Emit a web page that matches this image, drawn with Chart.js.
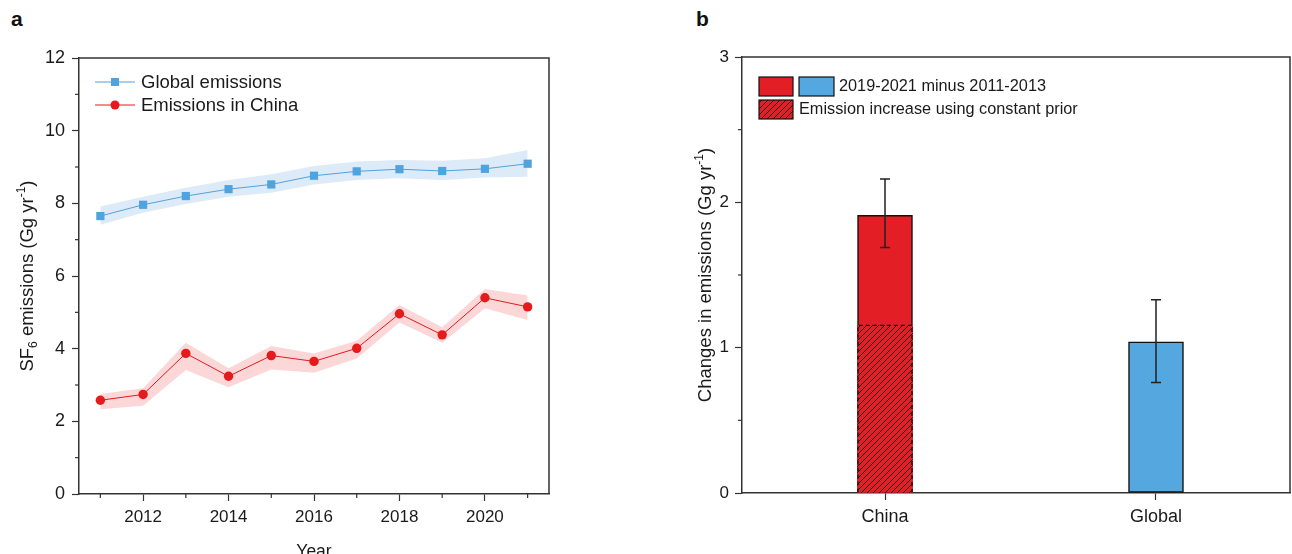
<!DOCTYPE html>
<html>
<head>
<meta charset="utf-8">
<script src="https://cdn.jsdelivr.net/npm/chart.js@4.4.0/dist/chart.umd.min.js"></script>
<style>
html, body { margin: 0; padding: 0; background: #fff; }
body { width: 1292px; height: 554px; position: relative; overflow: hidden; font-family: "Liberation Sans", Arial, sans-serif; }
.wrap { position: absolute; top: 0; height: 554px; }
#wa { left: 0; width: 640px; }
#wb { left: 640px; width: 652px; }
.tag { position: absolute; font-weight: bold; font-size: 21px; line-height: 21px; color: #111; }
</style>
</head>
<body>
<div class="tag" style="left:11px;top:8px">a</div>
<div class="tag" style="left:696px;top:8px">b</div>
<div class="wrap" id="wa"><canvas id="emis" width="640" height="554"></canvas></div>
<div class="wrap" id="wb"><canvas id="change" width="652" height="554"></canvas></div>
<script>
"use strict";

// panel a
const years = [2011, 2012, 2013, 2014, 2015, 2016, 2017, 2018, 2019, 2020, 2021];
const globalEmis = [7.65, 7.96, 8.20, 8.39, 8.52, 8.76, 8.88, 8.94, 8.89, 8.95, 9.09];
const globalHigh = [7.91, 8.18, 8.43, 8.64, 8.80, 9.03, 9.15, 9.19, 9.17, 9.24, 9.47];
const globalLow  = [7.41, 7.74, 7.98, 8.18, 8.29, 8.52, 8.64, 8.69, 8.64, 8.71, 8.73];
const chinaEmis  = [2.58, 2.74, 3.87, 3.24, 3.81, 3.65, 4.01, 4.96, 4.38, 5.40, 5.15];
const chinaHigh  = [2.75, 2.91, 4.16, 3.46, 4.07, 3.87, 4.22, 5.20, 4.59, 5.64, 5.46];
const chinaLow   = [2.33, 2.43, 3.41, 2.94, 3.43, 3.34, 3.73, 4.72, 4.16, 5.11, 4.79];
const emisTicks  = [0, 1, 2, 3, 4, 5, 6, 7, 8, 9, 10, 11, 12];

// panel b
const regions = ["China", "Global"];
const changeMean = [1.91, 1.04];
const changeHigh = [2.16, 1.33];
const changeLow  = [1.69, 0.76];
const constantPrior = [1.154];   // China only
const changeTicks = [0, 0.5, 1, 1.5, 2, 2.5, 3];

const BLUE = "#4fa3de";
const BLUE_BAND = "#ddebf8";
const RED = "#e41a1c";
const RED_BAND = "#fcd7d8";
const BAR_RED = "#e31e24";
const BAR_BLUE = "#54a7df";
const INK = "#1a1a1a";
const AXIS = "#333";
const FONT = "'Liberation Sans', Arial, sans-serif";

Chart.defaults.font.family = FONT;
Chart.defaults.font.size = 17;
Chart.defaults.color = INK;

// short ticks wherever a tick has no label
const shortTicks = {
	id: "shortTicks",
	afterDraw(chart) {
		const ctx = chart.ctx;
		ctx.save();
		ctx.strokeStyle = AXIS;
		ctx.lineWidth = 1.2;
		for (const id of ["x", "y"]) {
			const s = chart.scales[id];
			s.ticks.forEach(t => {
				if (t.label !== "") return;
				const p = s.getPixelForValue(t.value);
				ctx.beginPath();
				if (s.isHorizontal()) {
					ctx.moveTo(p, s.top);
					ctx.lineTo(p, s.top + 4);
				} else {
					ctx.moveTo(s.right, p);
					ctx.lineTo(s.right - 4, p);
				}
				ctx.stroke();
			});
		}
		ctx.restore();
	}
};

// top / right frame lines
const frame = {
	id: "frame",
	afterDraw(chart) {
		const a = chart.chartArea, ctx = chart.ctx;
		ctx.save();
		ctx.strokeStyle = AXIS;
		ctx.lineWidth = 1.5;
		ctx.beginPath();
		ctx.moveTo(a.left, a.top);
		ctx.lineTo(a.right, a.top);
		ctx.lineTo(a.right, a.bottom);
		ctx.stroke();
		ctx.restore();
	}
};

// rotated axis title with sub/superscripts
function drawRichTitle(ctx, parts, cx, cy) {
	const big = "18.5px " + FONT;
	const small = "12px " + FONT;
	let total = 0;
	parts.forEach(p => {
		ctx.font = p.sub || p.sup ? small : big;
		p.w = ctx.measureText(p.t).width;
		total += p.w;
	});
	ctx.save();
	ctx.translate(cx, cy);
	ctx.rotate(-Math.PI / 2);
	ctx.fillStyle = INK;
	ctx.textBaseline = "alphabetic";
	let x = -total / 2;
	parts.forEach(p => {
		ctx.font = p.sub || p.sup ? small : big;
		const dy = p.sub ? 4 : p.sup ? -8 : 0;
		ctx.fillText(p.t, x, 7 + dy);
		x += p.w;
	});
	ctx.restore();
}

function yTitle(parts, cx) {
	return {
		id: "yTitle",
		afterDraw(chart) {
			const a = chart.chartArea;
			drawRichTitle(chart.ctx, parts, cx, (a.top + a.bottom) / 2);
		}
	};
}

const legendA = {
	id: "legendA",
	afterDraw(chart) {
		const ctx = chart.ctx;
		const items = [
			{ text: "Global emissions", color: BLUE, shape: "rect", y: 82 },
			{ text: "Emissions in China", color: RED, shape: "circle", y: 105 }
		];
		ctx.save();
		items.forEach(it => {
			ctx.strokeStyle = it.color;
			ctx.lineWidth = 1;
			ctx.beginPath();
			ctx.moveTo(95, it.y);
			ctx.lineTo(135, it.y);
			ctx.stroke();
			ctx.fillStyle = it.color;
			if (it.shape === "rect") {
				ctx.fillRect(111, it.y - 4, 8, 8);
			} else {
				ctx.beginPath();
				ctx.arc(115, it.y, 4.5, 0, Math.PI * 2);
				ctx.fill();
			}
			ctx.fillStyle = INK;
			ctx.font = "18.5px " + FONT;
			ctx.textBaseline = "middle";
			ctx.fillText(it.text, 141, it.y + 1);
		});
		ctx.restore();
	}
};

function pinArea(chart, pad, box) {
	for (let k = 0; k < 3; k++) {
		const a = chart.chartArea;
		pad.left += box.left - a.left;
		pad.top += box.top - a.top;
		pad.right += a.right - box.right;
		pad.bottom += a.bottom - box.bottom;
		chart.update("none");
	}
}

const padA = { top: 48, left: 40, right: 91, bottom: 10 };

const chartA = new Chart(document.getElementById("emis"), {
	type: "line",
	data: {
		datasets: [
			{ data: years.map((y, i) => ({ x: y, y: globalEmis[i] })), borderColor: BLUE, backgroundColor: BLUE,
				borderWidth: 1, pointStyle: "rect", pointRadius: 5.8, pointBorderWidth: 0, fill: false },
			{ data: years.map((y, i) => ({ x: y, y: chinaEmis[i] })), borderColor: RED, backgroundColor: RED,
				borderWidth: 1, pointStyle: "circle", pointRadius: 4.7, pointBorderWidth: 0, fill: false },
			{ data: years.map((y, i) => ({ x: y, y: globalHigh[i] })), borderWidth: 0, pointRadius: 0,
				backgroundColor: BLUE_BAND, fill: "+1" },
			{ data: years.map((y, i) => ({ x: y, y: globalLow[i] })), borderWidth: 0, pointRadius: 0, fill: false },
			{ data: years.map((y, i) => ({ x: y, y: chinaHigh[i] })), borderWidth: 0, pointRadius: 0,
				backgroundColor: RED_BAND, fill: "+1" },
			{ data: years.map((y, i) => ({ x: y, y: chinaLow[i] })), borderWidth: 0, pointRadius: 0, fill: false }
		]
	},
	options: {
		responsive: false,
		animation: false,
		layout: { padding: padA },
		plugins: { legend: { display: false }, tooltip: { enabled: false } },
		scales: {
			x: {
				type: "linear",
				min: 2010.5,
				max: 2021.5,
				afterBuildTicks: s => { s.ticks = years.map(v => ({ value: v })); },
				ticks: { padding: 6, maxRotation: 0, autoSkip: false, font: { size: 17 },
					callback: v => v % 2 === 0 ? String(v) : "" },
				grid: { drawOnChartArea: false, tickLength: 7, tickWidth: 1.2,
					tickColor: c => c.tick && c.tick.value % 2 ? "rgba(0,0,0,0)" : AXIS },
				border: { color: AXIS, width: 1.5 },
				title: { display: true, text: "Year", font: { size: 17.5 }, padding: { top: 8, bottom: 0 } }
			},
			y: {
				min: 0,
				max: 12,
				afterBuildTicks: s => { s.ticks = emisTicks.map(v => ({ value: v })); },
				ticks: { padding: 7, autoSkip: false, font: { size: 18 },
					callback: v => v % 2 === 0 ? String(v) : "" },
				grid: { drawOnChartArea: false, tickLength: 7, tickWidth: 1.2,
					tickColor: c => c.tick && c.tick.value % 2 ? "rgba(0,0,0,0)" : AXIS },
				border: { color: AXIS, width: 1.5 }
			}
		}
	},
	plugins: [shortTicks, frame, legendA, yTitle([
		{ t: "SF" }, { t: "6", sub: true }, { t: " emissions (Gg yr" }, { t: "-1", sup: true }, { t: ")" }
	], 26)]
});
pinArea(chartA, padA, { left: 79, top: 58, right: 549, bottom: 494 });

// panel b
const ctxB = document.getElementById("change").getContext("2d");

function hatchPattern() {
	const c = document.createElement("canvas");
	c.width = 6;
	c.height = 6;
	const g = c.getContext("2d");
	g.fillStyle = BAR_RED;
	g.fillRect(0, 0, 6, 6);
	g.strokeStyle = "#111";
	g.lineWidth = 0.9;
	g.beginPath();
	g.moveTo(0, 6); g.lineTo(6, 0);
	g.moveTo(-1, 1); g.lineTo(1, -1);
	g.moveTo(5, 7); g.lineTo(7, 5);
	g.stroke();
	return ctxB.createPattern(c, "repeat");
}
const hatch = hatchPattern();

const errorBars = {
	id: "errorBars",
	afterDatasetsDraw(chart) {
		const ctx = chart.ctx, ys = chart.scales.y;
		const bars = chart.getDatasetMeta(1).data;
		ctx.save();
		ctx.strokeStyle = "#222";
		ctx.lineWidth = 1.5;
		bars.forEach((b, i) => {
			const top = ys.getPixelForValue(changeHigh[i]);
			const bot = ys.getPixelForValue(changeLow[i]);
			ctx.beginPath();
			ctx.moveTo(b.x, top); ctx.lineTo(b.x, bot);
			ctx.moveTo(b.x - 5, top); ctx.lineTo(b.x + 5, top);
			ctx.moveTo(b.x - 5, bot); ctx.lineTo(b.x + 5, bot);
			ctx.stroke();
		});
		// dashed outline of the hatched part
		const h = chart.getDatasetMeta(0).data[0];
		const l = h.x - h.width / 2, r = h.x + h.width / 2;
		ctx.strokeStyle = "#111";
		ctx.lineWidth = 1.3;
		ctx.setLineDash([4, 3]);
		ctx.beginPath();
		ctx.moveTo(l + 0.5, h.base);
		ctx.lineTo(l + 0.5, h.y);
		ctx.lineTo(r - 0.5, h.y);
		ctx.lineTo(r - 0.5, h.base);
		ctx.stroke();
		ctx.restore();
	}
};

const legendB = {
	id: "legendB",
	afterDraw(chart) {
		const ctx = chart.ctx;
		ctx.save();
		ctx.lineWidth = 1.2;
		ctx.strokeStyle = "#111";
		ctx.fillStyle = BAR_RED;
		ctx.fillRect(119, 77, 34, 19);
		ctx.strokeRect(119, 77, 34, 19);
		ctx.fillStyle = BAR_BLUE;
		ctx.fillRect(159, 77, 35, 19);
		ctx.strokeRect(159, 77, 35, 19);
		ctx.fillStyle = hatch;
		ctx.fillRect(119, 100, 34, 19);
		ctx.strokeRect(119, 100, 34, 19);
		ctx.fillStyle = INK;
		ctx.font = "16.3px " + FONT;
		ctx.textBaseline = "middle";
		ctx.fillText("2019-2021 minus 2011-2013", 199, 87);
		ctx.fillText("Emission increase using constant prior", 159, 110);
		ctx.restore();
	}
};

const padB = { top: 48, left: 60, right: 2, bottom: 30 };

const chartB = new Chart(ctxB, {
	type: "bar",
	data: {
		datasets: [
			{ data: constantPrior.map((v, i) => ({ x: i + 1, y: v })), backgroundColor: hatch,
				borderWidth: 0, grouped: false, barThickness: 55 },
			{ data: changeMean.map((v, i) => ({ x: i + 1, y: v })), backgroundColor: [BAR_RED, BAR_BLUE],
				borderColor: "#111", borderWidth: 1.5, borderSkipped: false, grouped: false, barThickness: 55 }
		]
	},
	options: {
		responsive: false,
		animation: false,
		layout: { padding: padB },
		plugins: { legend: { display: false }, tooltip: { enabled: false } },
		scales: {
			x: {
				type: "linear",
				offset: false,
				min: 0.4723,
				max: 2.4945,
				afterBuildTicks: s => { s.ticks = regions.map((r, i) => ({ value: i + 1 })); },
				ticks: { padding: 6, maxRotation: 0, autoSkip: false, font: { size: 18 },
					callback: v => regions[v - 1] || "" },
				grid: { offset: false, drawOnChartArea: false, tickLength: 7, tickWidth: 1.2, tickColor: AXIS },
				border: { color: AXIS, width: 1.5 }
			},
			y: {
				min: 0,
				max: 3,
				afterBuildTicks: s => { s.ticks = changeTicks.map(v => ({ value: v })); },
				ticks: { padding: 6, autoSkip: false, font: { size: 17 },
					callback: v => Number.isInteger(v) ? String(v) : "" },
				grid: { drawOnChartArea: false, tickLength: 7, tickWidth: 1.2,
					tickColor: c => c.tick && !Number.isInteger(c.tick.value) ? "rgba(0,0,0,0)" : AXIS },
				border: { color: AXIS, width: 1.5 }
			}
		}
	},
	plugins: [shortTicks, frame, errorBars, legendB, yTitle([
		{ t: "Changes in emissions (Gg yr" }, { t: "-1", sup: true }, { t: ")" }
	], 64)]
});
pinArea(chartB, padB, { left: 102, top: 57, right: 650, bottom: 493 });
</script>
</body>
</html>
